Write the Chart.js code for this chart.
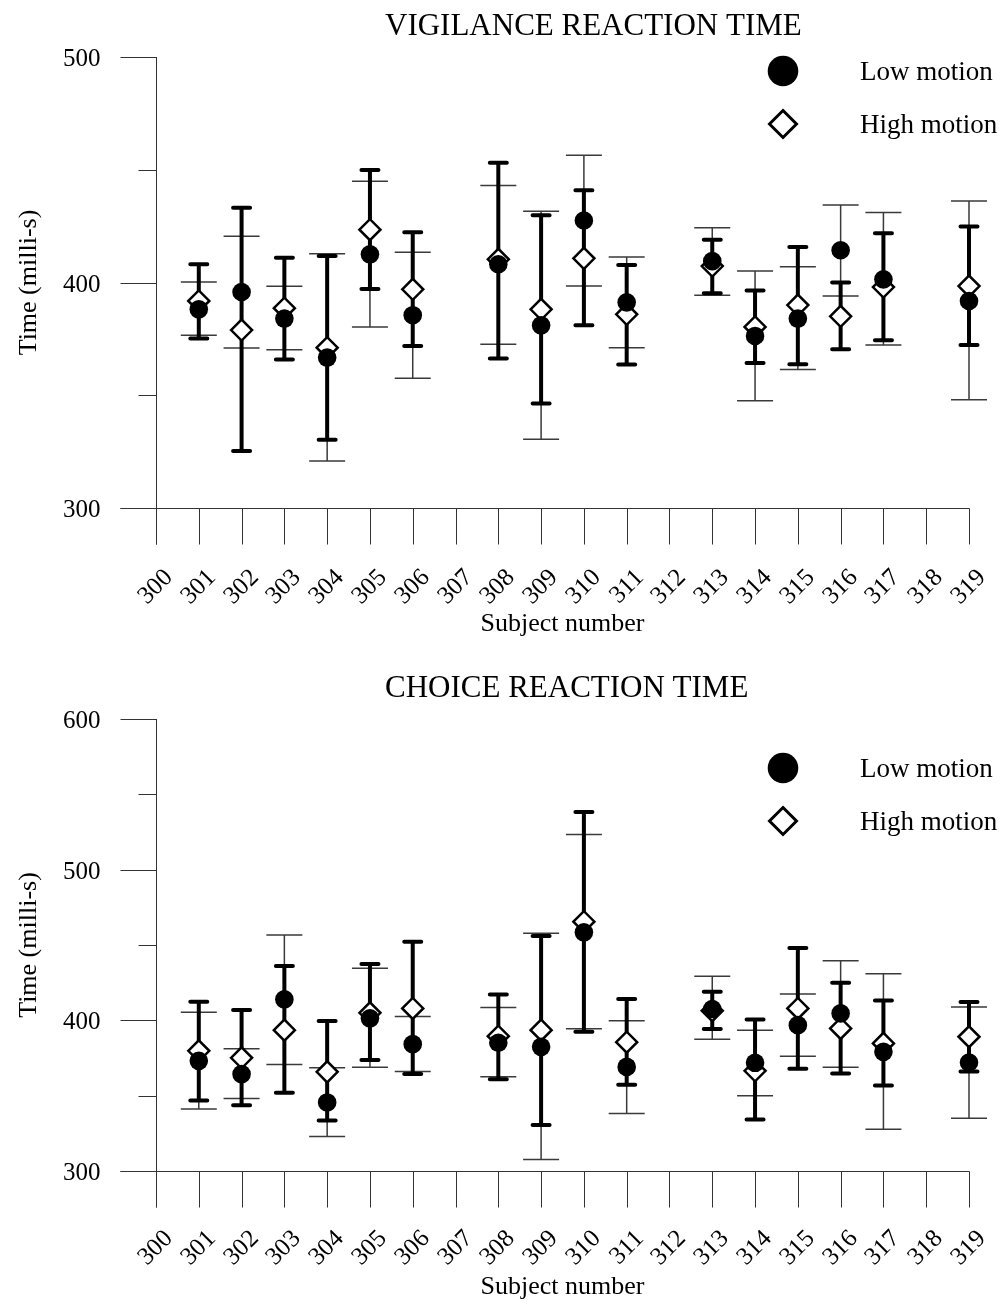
<!DOCTYPE html>
<html>
<head>
<meta charset="utf-8">
<script src="https://cdn.jsdelivr.net/npm/chart.js@4/dist/chart.umd.min.js"></script>
<style>
html,body{margin:0;padding:0;background:#fff;width:1002px;height:1305px;overflow:hidden}
canvas{position:absolute;left:0;display:block}
</style>
</head>
<body>
<canvas id="c1" width="1002" height="652" style="top:0px"></canvas>
<canvas id="c2" width="1002" height="653" style="top:652px"></canvas>
<script>
// ---------- DATA ----------
const xTickValues = [300,301,302,303,304,305,306,307,308,309,310,311,312,313,314,315,316,317,318,319];
const xTickLabels = ['300','301','302','303','304','305','306','307','308','309','310','311','312','313','314','315','316','317','318','319'];
const subjects = [301,302,303,304,305,306,308,309,310,311,313,314,315,316,317,319];
const seriesNames = ['Low motion','High motion'];

// Vigilance reaction time
const vigTitle = 'VIGILANCE REACTION TIME';
const vigYTicks = [300,350,400,450,500];
const vigYTickLabels = ['300','','400','','500'];
const vigLowMean  = [388.1,395.8,384.0,366.7,412.5,385.5,408.1,381.0,427.5,391.2,409.5,376.3,384.0,414.3,401.4,391.8];
const vigLowUpper = [408.1,433.2,411.0,411.8,449.9,422.3,453.1,429.8,440.9,407.8,419.0,396.5,415.7,400.0,421.8,424.8];
const vigLowLower = [375.2,325.3,365.8,330.3,397.1,371.8,366.3,346.3,381.0,363.6,395.2,364.3,363.7,370.4,374.4,372.3];
const vigHighMean  = [391.8,378.9,388.6,371.1,423.4,397.0,410.3,388.1,410.7,385.9,407.3,380.3,390.0,385.0,398.0,398.4];
const vigHighUpper = [400.2,420.5,398.3,412.8,444.9,413.4,443.0,431.6,456.4,411.3,424.3,405.1,407.0,434.4,431.0,436.1];
const vigHighLower = [376.6,371.0,370.2,320.8,380.3,357.5,372.6,330.5,398.4,371.1,394.4,347.6,361.4,394.0,372.3,348.0];

// Choice reaction time
const choTitle = 'CHOICE REACTION TIME';
const choYTicks = [300,350,400,450,500,550,600];
const choYTickLabels = ['300','','400','','500','','600'];
const choLowMean  = [373.1,364.3,413.9,345.5,401.3,384.2,385.1,382.4,458.4,369.1,407.5,371.8,396.8,404.6,379.1,372.0];
const choLowUpper = [412.3,406.8,436.0,399.5,437.4,452.2,417.2,456.0,538.2,414.1,419.0,400.6,448.0,425.0,413.2,412.1];
const choLowLower = [346.8,343.7,351.9,333.5,373.6,364.3,360.9,330.6,392.4,357.2,394.2,334.2,367.8,364.7,356.8,366.0];
const choHighMean  = [379.8,375.1,393.5,365.8,405.0,407.9,389.5,393.5,465.5,385.5,406.4,366.5,407.9,394.6,384.7,389.1];
const choHighUpper = [405.3,381.1,456.7,368.5,434.5,402.6,408.6,457.8,523.3,399.7,429.2,393.5,417.4,439.6,430.9,408.8];
const choHighLower = [341.2,348.1,370.7,322.9,368.9,366.0,362.5,307.6,394.4,338.1,387.5,349.9,376.2,368.9,327.7,335.0];

const xAxisTitle = 'Subject number';
const yAxisTitle = 'Time (milli-s)';

// ---------- DRAWING ----------
const FONT = '"Liberation Serif", "Times New Roman", Times, serif';

function drawErrorBars(ctx, xs, ys, up, lo, st) {
  ctx.save();
  ctx.strokeStyle = st.color;
  ctx.lineWidth = st.width;
  ctx.lineCap = st.cap;
  subjects.forEach((s, i) => {
    const x = xs.getPixelForValue(s);
    const yU = ys.getPixelForValue(up[i]);
    const yL = ys.getPixelForValue(lo[i]);
    ctx.beginPath();
    ctx.moveTo(x, yU); ctx.lineTo(x, yL);
    ctx.moveTo(x - st.half, yU); ctx.lineTo(x + st.half, yU);
    ctx.moveTo(x - st.half, yL); ctx.lineTo(x + st.half, yL);
    ctx.stroke();
  });
  ctx.restore();
}

function buildChart(id, spec) {
  const canvas = document.getElementById(id);
  const plugin = {
    id: 'deco_' + id,
    beforeDatasetsDraw(chart) {
      const ctx = chart.ctx, xs = chart.scales.x, ys = chart.scales.y;
      ctx.save();
      const x0 = Math.round(xs.getPixelForValue(xs.min)) + 0.5;
      const yb = Math.round(ys.getPixelForValue(ys.min)) + 0.5;
      const yt = ys.getPixelForValue(ys.max);
      const xr = Math.round(xs.getPixelForValue(xs.max)) + 0.5;
      ctx.strokeStyle = '#333';
      ctx.lineWidth = 1;
      // axis lines
      ctx.beginPath(); ctx.moveTo(x0, yt); ctx.lineTo(x0, yb + 36); ctx.stroke();
      ctx.beginPath(); ctx.moveTo(x0 - 36, yb); ctx.lineTo(xr, yb); ctx.stroke();
      // y ticks + labels
      ctx.fillStyle = '#000';
      ctx.font = '25px ' + FONT;
      ctx.textAlign = 'right';
      ctx.textBaseline = 'alphabetic';
      spec.yTicks.forEach((v, i) => {
        const y = Math.round(ys.getPixelForValue(v)) + 0.5;
        const major = spec.yTickLabels[i] !== '';
        ctx.beginPath(); ctx.moveTo(x0 - (major ? 36 : 18), y); ctx.lineTo(x0, y); ctx.stroke();
        if (major) ctx.fillText(spec.yTickLabels[i], x0 - 56, y + 8.3);
      });
      // x ticks + rotated labels
      xTickValues.forEach((v, i) => {
        const x = Math.round(xs.getPixelForValue(v)) + 0.5;
        ctx.beginPath(); ctx.moveTo(x, yb); ctx.lineTo(x, yb + 36); ctx.stroke();
        ctx.save();
        ctx.translate(x + 17, yb + spec.xLabelOffset);
        ctx.rotate(-Math.PI / 4);
        ctx.textAlign = 'right';
        ctx.textBaseline = 'alphabetic';
        ctx.fillText(xTickLabels[i], 0, 0);
        ctx.restore();
      });
      // error bars
      drawErrorBars(ctx, xs, ys, spec.highUpper, spec.highLower, {color:'#3a3a3a', width:1.5, half:18, cap:'butt'});
      drawErrorBars(ctx, xs, ys, spec.lowUpper, spec.lowLower, {color:'#000', width:4, half:8.5, cap:'round'});
      ctx.restore();
    },
    afterDraw(chart) {
      const ctx = chart.ctx, area = chart.chartArea;
      const yb = chart.scales.y.getPixelForValue(chart.scales.y.min);
      ctx.save();
      ctx.fillStyle = '#000';
      // title
      ctx.font = '31px ' + FONT;
      ctx.textAlign = 'left';
      ctx.textBaseline = 'alphabetic';
      ctx.fillText(spec.title, 385, area.top - 22);
      // axis titles
      ctx.font = '26px ' + FONT;
      ctx.textAlign = 'center';
      ctx.fillText(xAxisTitle, (area.left + area.right) / 2, yb + 123);
      ctx.save();
      ctx.translate(36, (area.top + area.bottom) / 2);
      ctx.rotate(-Math.PI / 2);
      ctx.fillText(yAxisTitle, 0, 0);
      ctx.restore();
      // legend
      const lx = 783, tx = 860;
      ctx.beginPath();
      ctx.arc(lx, spec.legY[0], 15.3, 0, Math.PI * 2);
      ctx.fill();
      ctx.beginPath();
      const d = 13.5, cy = spec.legY[1];
      ctx.moveTo(lx, cy - d); ctx.lineTo(lx + d, cy); ctx.lineTo(lx, cy + d); ctx.lineTo(lx - d, cy); ctx.closePath();
      ctx.fillStyle = '#fff'; ctx.fill();
      ctx.strokeStyle = '#000'; ctx.lineWidth = 3; ctx.stroke();
      ctx.fillStyle = '#000';
      ctx.font = '27px ' + FONT;
      ctx.textAlign = 'left';
      ctx.fillText(seriesNames[0], tx, spec.legY[0] + 9);
      ctx.fillText(seriesNames[1], tx, spec.legY[1] + 9);
      ctx.restore();
    }
  };

  return new Chart(canvas, {
    type: 'scatter',
    data: {
      datasets: [
        {
          label: seriesNames[0],
          data: subjects.map((s, i) => ({x: s, y: spec.lowMean[i]})),
          pointStyle: 'circle', pointRadius: 9.3,
          backgroundColor: '#000', borderColor: '#000', borderWidth: 0,
          clip: false
        },
        {
          label: seriesNames[1],
          data: subjects.map((s, i) => ({x: s, y: spec.highMean[i]})),
          pointStyle: 'rectRot', pointRadius: 10.5,
          backgroundColor: '#fff', borderColor: '#000', borderWidth: 2.5,
          clip: false
        }
      ]
    },
    options: {
      responsive: false,
      animation: false,
      events: [],
      devicePixelRatio: 1,
      layout: { autoPadding: false, padding: spec.padding },
      scales: {
        x: { type: 'linear', min: 300, max: 319, display: false },
        y: { type: 'linear', min: spec.yTicks[0], max: spec.yTicks[spec.yTicks.length - 1], display: false }
      },
      plugins: { legend: { display: false }, tooltip: { enabled: false }, title: { display: false } }
    },
    plugins: [plugin]
  });
}

buildChart('c1', {
  title: vigTitle, yTicks: vigYTicks, yTickLabels: vigYTickLabels,
  lowMean: vigLowMean, lowUpper: vigLowUpper, lowLower: vigLowLower,
  highMean: vigHighMean, highUpper: vigHighUpper, highLower: vigHighLower,
  padding: {left: 156, right: 33, top: 57, bottom: 144},
  legY: [71, 124], xLabelOffset: 70
});
buildChart('c2', {
  title: choTitle, yTicks: choYTicks, yTickLabels: choYTickLabels,
  lowMean: choLowMean, lowUpper: choLowUpper, lowLower: choLowLower,
  highMean: choHighMean, highUpper: choHighUpper, highLower: choHighLower,
  padding: {left: 156, right: 33, top: 67, bottom: 134},
  legY: [116, 169], xLabelOffset: 68
});
</script>
</body>
</html>
